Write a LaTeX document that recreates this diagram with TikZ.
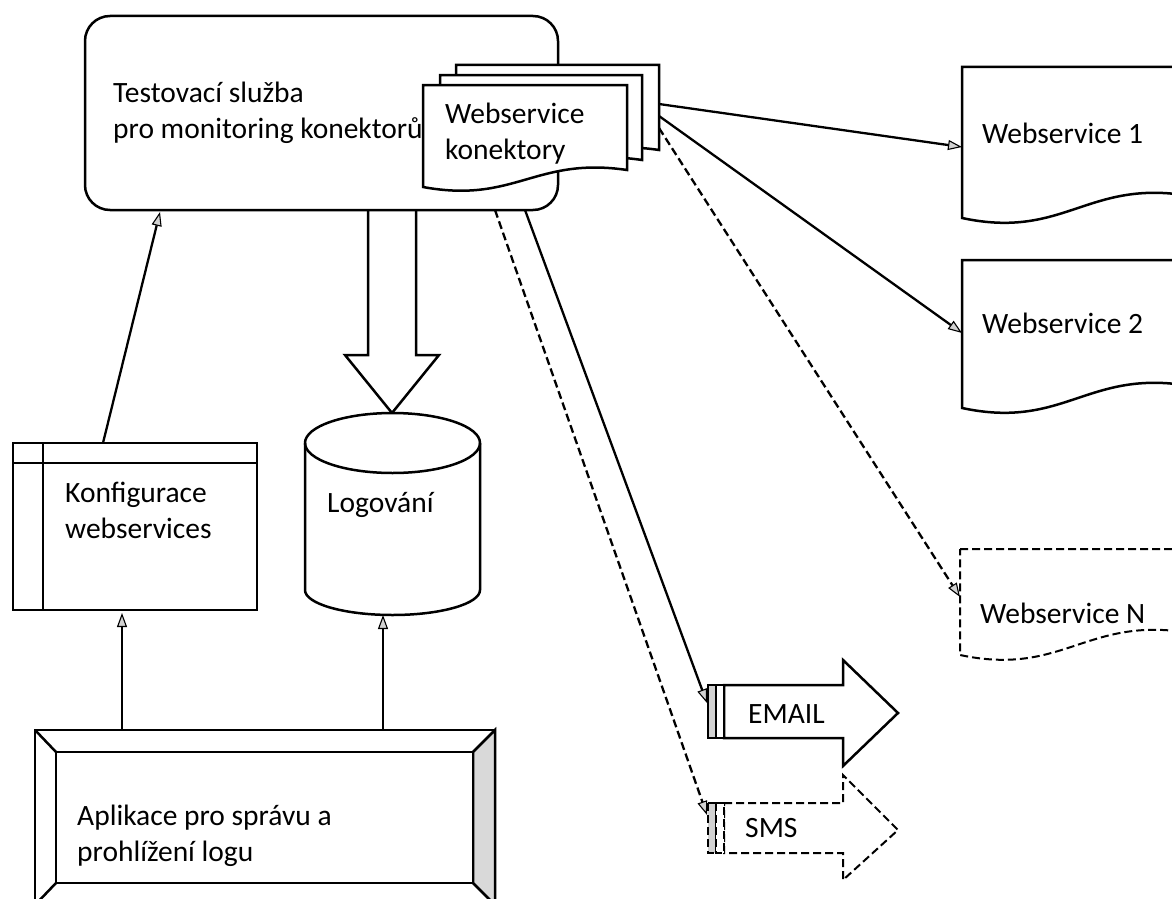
\documentclass[tikz,border=0pt]{standalone}
\usepackage{fontspec}
\setmainfont{Carlito}
\usetikzlibrary{arrows.meta,calc}

% document symbol with a wavy bottom edge
% #1 extra style, #2 left x, #3 top y, #4 right x, #5 bottom-left y, #6 rise of the wave
\newcommand\docshape[6][]{%
  \draw[outline,#1] (#2,#3) -- (#4,#3) -- (#4,{#5+#6})
    .. controls ({#2+0.55*(#4-#2)},{#5+1.8*#6}) and ({#2+0.45*(#4-#2)},{#5-#6}) .. (#2,#5) -- cycle;}
% two left-aligned lines, baseline on the first line
\newcommand\twoline[2]{\begin{tabular}[t]{@{}l@{}}#1\\#2\end{tabular}}

\tikzset{
  x=1pt, y=1pt,
  outline/.style={draw=black, line width=2.5pt, fill=white, line join=miter},
  dashline/.style={dash pattern=on 8pt off 4pt},
  frame/.style={inner sep=0pt, outer sep=0pt},
  lbl/.style={font=\fontsize{29.5}{36}\selectfont, inner sep=0pt, anchor=base west},
  conn/.style={line width=2.3pt, -{Triangle[length=14pt,width=10pt,fill=gray!35,line width=1.1pt]}},
}

\begin{document}
\begin{tikzpicture}
\useasboundingbox (0,0) rectangle (1172,-899);
\clip (0,0) rectangle (1172,-899);

% block arrow from the service into the log
\draw[outline] (368,-208) -- (368,-355) -- (345,-355) -- (392,-413) -- (439,-355) -- (416,-355) -- (416,-208);

% monitoring service
\node[outline, frame, rounded corners=25pt, minimum width=473pt, minimum height=194pt] (svc) at (321.5,-113) {};
\node[lbl] (svctext) at (113,-102) {\twoline{Testovací služba}{pro monitoring konektorů}};

% stack of connector documents
\node[frame, minimum width=236pt, minimum height=122pt] (stack) at (541,-126) {};
\docshape{456}{-65}{659}{-167}{17}
\docshape{440}{-75}{642}{-177}{17}
\docshape{423}{-85}{627}{-187}{17}
\node[lbl] (stacktext) at (445,-123) {\twoline{Webservice}{konektory}};

% target web services
\docshape{962}{-67}{1190}{-218}{22}
\node[frame, minimum width=228pt, minimum height=158pt] (ws1) at (1076,-146) {};
\node[lbl] (ws1text) at (982,-143) {Webservice 1};
\docshape{962}{-260}{1190}{-408}{22}
\node[frame, minimum width=228pt, minimum height=148pt] (ws2) at (1076,-334) {};
\node[lbl] (ws2text) at (982,-333) {Webservice 2};
\docshape[dashline, line width=2pt]{960}{-549}{1190}{-655}{22}
\node[frame, minimum width=230pt, minimum height=106pt] (wsN) at (1075,-602) {};
\node[lbl] (wsNtext) at (980,-623) {Webservice N};

% configuration window
\node[outline, frame, minimum width=244pt, minimum height=167pt] (cfg) at (135,-526.5) {};
\draw[line width=2pt] (43,-443) -- (43,-610) (13,-463) -- (257,-463);
\node[lbl] (cfgtext) at (65,-502) {\twoline{Konfigurace}{webservices}};

% log storage
\node[frame, minimum width=175pt, minimum height=202pt] (log) at (392.5,-514) {};
\draw[outline] (305,-443) -- (305,-590)
  arc[start angle=180, end angle=360, x radius=87.5pt, y radius=25pt] -- (480,-443)
  arc[start angle=0, end angle=180, x radius=87.5pt, y radius=30pt] -- cycle;
\draw[outline, fill=none] (305,-443) arc[start angle=180, end angle=360, x radius=87.5pt, y radius=30pt];
\node[lbl] (logtext) at (327,-512) {Logování};

% management application (bevelled frame)
\node[outline, frame, minimum width=460pt, minimum height=175pt] (app) at (265,-817.5) {};
\draw[outline, fill=gray!30] (473,-752) -- (495,-730) -- (495,-905) -- (473,-883) -- cycle;
\draw[outline] (56,-752) rectangle (473,-883);
\draw[line width=2.5pt] (35,-730) -- (56,-752) (35,-905) -- (56,-883);
\node[lbl] (apptext) at (77,-825) {\twoline{Aplikace pro správu a}{prohlížení logu}};

% notification arrows
\node[frame, minimum width=190pt, minimum height=106pt] (email) at (803,-713) {};
\draw[outline] (724,-685) -- (843,-685) -- (843,-660) -- (898,-713) -- (843,-766) -- (843,-738) -- (724,-738) -- cycle;
\draw[outline, line width=1.8pt, fill=gray!35] (708,-685) rectangle (716,-738);
\draw[outline, line width=1.8pt] (716,-685) rectangle (724,-738);
\node[lbl] (emailtext) at (748,-723) {EMAIL};

\node[frame, minimum width=190pt, minimum height=105pt] (sms) at (803,-827.5) {};
\draw[outline, dashline, line width=2pt] (724,-803) -- (843,-803) -- (843,-775) -- (898,-830) -- (843,-880) -- (843,-853) -- (724,-853) -- cycle;
\draw[outline, dashline, line width=1.6pt, fill=gray!35] (708,-803) rectangle (716,-853);
\draw[outline, dashline, line width=1.6pt] (716,-803) rectangle (724,-853);
\node[lbl] (smstext) at (745,-837) {SMS};

% connectors
\draw[conn] ($(cfg.north west)+(90,0)$) -- ($(svc.south west)+(75,-2)$);
\draw[conn] ($(app.north west)+(87,0)$) -- ($(cfg.south west)+(109,-3)$);
\draw[conn] ($(app.north west)+(348,0)$) -- ($(log.south)+(-9.5,0)$);
\draw[conn] ($(stack.north east)+(0,-39)$) -- ($(ws1.north west)+(0,-80)$);
\draw[conn] ($(stack.north east)+(0,-51)$) -- ($(ws2.north west)+(0,-73)$);
\draw[conn, dashline] ($(stack.north east)+(0,-63)$) -- ($(wsN.north west)+(0,-48)$);
\draw[conn] ($(svc.south west)+(440,0)$) -- ($(email.west)+(-1,10)$);
\draw[conn, dashline] ($(svc.south west)+(410,0)$) -- ($(sms.west)+(-1,12.5)$);
\end{tikzpicture}
\end{document}
